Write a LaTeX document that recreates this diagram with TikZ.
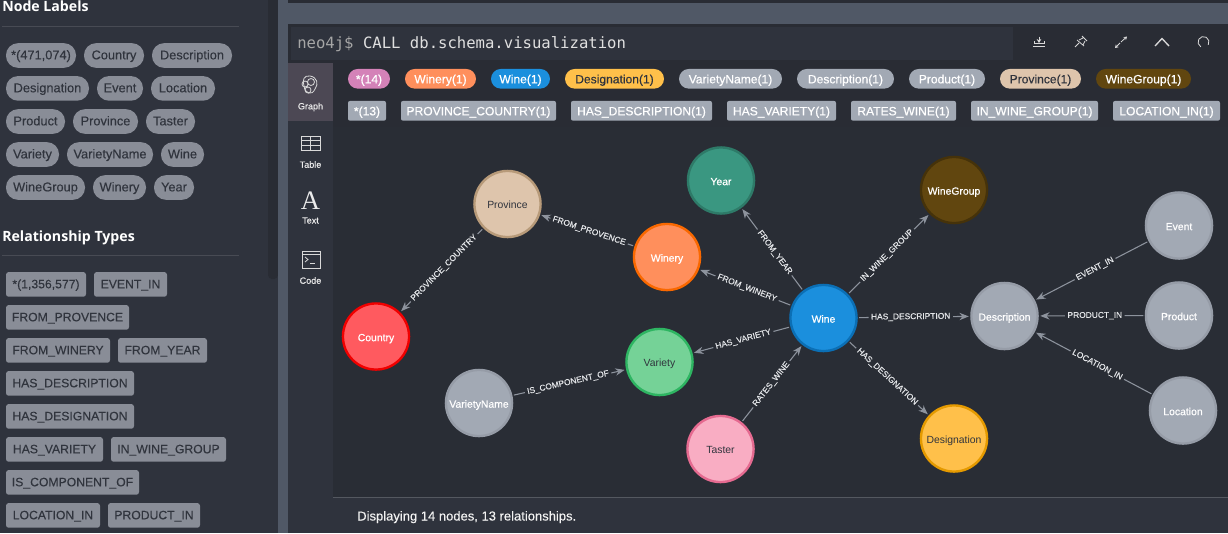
\documentclass[tikz,border=0pt]{standalone}
\usepackage{fontspec}
\setmainfont{Liberation Sans}
\newfontfamily\headfont{Open Sans}
\newfontfamily\monofont{DejaVu Sans Mono}
\newfontfamily\semi[FakeBold=0.25]{Liberation Sans}
\newfontfamily\semib[FakeBold=0.6]{Liberation Sans}
\newfontfamily\serifA{Liberation Serif}
\usetikzlibrary{arrows.meta}
\definecolor{side}{HTML}{2F333D}
\definecolor{gutter}{HTML}{292C34}
\definecolor{frame}{HTML}{505866}
\definecolor{cv}{HTML}{292D35}
\definecolor{bar}{HTML}{2F333D}
\definecolor{pillg}{HTML}{898D97}
\definecolor{pilld}{HTML}{A2A9B4}
\definecolor{edgec}{HTML}{8D939D}
\definecolor{txtd}{HTML}{30343D}
\definecolor{lbl}{HTML}{E4E6E9}
\definecolor{tabhi}{HTML}{4C4854}
\definecolor{cstar}{HTML}{D482B8}
\definecolor{cwinery}{HTML}{FF8F5C}
\definecolor{bwinery}{HTML}{F96800}
\definecolor{cwine}{HTML}{1B8FDD}
\definecolor{bwine}{HTML}{0B6FB5}
\definecolor{cdesig}{HTML}{FFC04A}
\definecolor{bdesig}{HTML}{E59A00}
\definecolor{cprov}{HTML}{DEC5AC}
\definecolor{bprov}{HTML}{B79A79}
\definecolor{cgroup}{HTML}{61460F}
\definecolor{bgroup}{HTML}{45320A}
\definecolor{cyear}{HTML}{3A9781}
\definecolor{byear}{HTML}{2E7A68}
\definecolor{ccountry}{HTML}{FF5A5F}
\definecolor{bcountry}{HTML}{F00000}
\definecolor{cvariety}{HTML}{75D297}
\definecolor{bvariety}{HTML}{2EB562}
\definecolor{bgrey}{HTML}{969CA7}
\definecolor{ctaster}{HTML}{F9ADC3}
\definecolor{btaster}{HTML}{E56A90}
\tikzset{
 x=0.75pt,y=-0.75pt,
 sp/.style={rounded corners=9pt,fill=pillg,text=txtd,inner sep=0pt,font=\semi\fontsize{9.6}{10}\selectfont,text height=7.5pt,text depth=1.7pt},
 sr/.style={rounded corners=2pt,fill=pillg,text=txtd,inner sep=0pt,font=\semi\fontsize{9.15}{10}\selectfont,text height=7.5pt,text depth=1.7pt},
 gn/.style={circle,draw=#1,line width=1.8pt,minimum size=49.6pt,inner sep=0pt,font=\semib\fontsize{7.8}{8}\selectfont,text=white,outer sep=2pt,text height=7pt,text depth=0pt},
 dk/.style={text=txtd,font=\fontsize{7.8}{8}\selectfont},
 rel/.style={-{Stealth[length=7pt,width=5.5pt]},draw=edgec,line width=0.8pt},
 rl/.style={fill=cv,inner sep=1.8pt,text=lbl,font=\semi\fontsize{6.3}{7}\selectfont,sloped,pos=#1},
 rl/.default=0.5,
 htitle/.style={text=white,font=\headfont\bfseries\fontsize{10.6}{12}\selectfont,anchor=base west,inner sep=0pt},
 ic/.style={draw=white!85!black,line width=0.6pt},
 tabl/.style={text=white!92!black,font=\semi\fontsize{6.8}{8}\selectfont,inner sep=0pt},
 lp/.style={rounded corners=7.4pt,inner sep=0pt,font=\semib\fontsize{9.05}{10}\selectfont,minimum height=14.8pt,text=white,text height=8pt,text depth=1.2pt},
 lr/.style={rounded corners=1.5pt,inner sep=0pt,font=\semib\fontsize{9.05}{10}\selectfont,minimum height=14.8pt,text=white,fill=pilld,text height=8pt,text depth=1.2pt},
}
\newcommand{\pill}[6]{\node[#5,minimum width={(#3-#2)*0.75pt},minimum height=18.5pt] (#1) at ({(#2+#3)/2},#4) {#6};}
\newcommand{\lpill}[6]{\node[#5,minimum width={(#3-#2)*0.75pt}] (#1) at ({(#2+#3)/2},#4) {#6};}
\begin{document}
\begin{tikzpicture}
\useasboundingbox (0,0) rectangle (1228,533);
\fill[side] (0,0) rectangle (1228,533);
\fill[gutter,rounded corners=3pt] (268,-10) rectangle (278,279);
\fill[frame] (278,0) rectangle (1228,533);
\fill[gutter] (288,0) rectangle (1228,3);
\fill[gutter] (288,24) rectangle (1228,533);
\fill[bar] (291,27) rectangle (1013,60);
\fill[side] (288,63) rectangle (333,533);
\fill[tabhi] (288,63) rectangle (333,121);
\fill[cv] (333,127) rectangle (1228,533);
\fill[side] (333,497) rectangle (1228,533);
\draw[white!18!side,line width=0.6pt] (333,497) -- (1228,497);

% sidebar headings
\node[htitle] (hn) at (2,11) {Node Labels};
\node[htitle] (hr) at (2,241) {Relationship Types};
\draw[white!12!side,line width=0.6pt] (2,26) -- (239,26);
\draw[white!12!side,line width=0.6pt] (2,255) -- (239,255);

% node label pills
\pill{a1}{6}{76}{55.5}{sp}{*(471,074)}
\pill{a2}{84}{144}{55.5}{sp}{Country}
\pill{a3}{152}{232}{55.5}{sp}{Description}
\pill{a4}{6}{89}{88.4}{sp}{Designation}
\pill{a5}{97}{143}{88.4}{sp}{Event}
\pill{a6}{151}{215}{88.4}{sp}{Location}
\pill{a7}{6}{65}{121.5}{sp}{Product}
\pill{a8}{73}{138}{121.5}{sp}{Province}
\pill{a9}{146}{195}{121.5}{sp}{Taster}
\pill{a10}{6}{59}{154.5}{sp}{Variety}
\pill{a11}{67}{153}{154.5}{sp}{VarietyName}
\pill{a12}{161}{204}{154.5}{sp}{Wine}
\pill{a13}{6}{85}{187.5}{sp}{WineGroup}
\pill{a14}{93}{146}{187.5}{sp}{Winery}
\pill{a15}{154}{194}{187.5}{sp}{Year}

% relationship type pills
\pill{b1}{6}{86}{284.4}{sr}{*(1,356,577)}
\pill{b2}{94}{167}{284.4}{sr}{EVENT\_IN}
\pill{b3}{6}{129}{317.4}{sr}{FROM\_PROVENCE}
\pill{b4}{6}{110}{350.4}{sr}{FROM\_WINERY}
\pill{b5}{118}{207}{350.4}{sr}{FROM\_YEAR}
\pill{b6}{6}{134}{383.4}{sr}{HAS\_DESCRIPTION}
\pill{b7}{6}{134}{416.4}{sr}{HAS\_DESIGNATION}
\pill{b8}{6}{103}{449.4}{sr}{HAS\_VARIETY}
\pill{b9}{111}{226}{449.4}{sr}{IN\_WINE\_GROUP}
\pill{b10}{6}{139}{482.4}{sr}{IS\_COMPONENT\_OF}
\pill{b11}{6}{100}{515.4}{sr}{LOCATION\_IN}
\pill{b12}{108}{200}{515.4}{sr}{PRODUCT\_IN}

% query line
\node[anchor=base west,inner sep=0pt,font=\monofont\fontsize{11.7}{12}\selectfont,text=white!88!black] (q) at (297,48.5) {\textcolor{white!65!black}{neo4j\$} CALL db.schema.visualization};

% toolbar icons
\begin{scope}[ic]
\draw (1033,46.5) -- (1045,46.5);
\draw (1034,41) -- (1034,43.5) -- (1044,43.5) -- (1044,41);
\draw[-{Stealth[length=3pt,width=3.5pt]}] (1039,36.5) -- (1039,43);
\draw (1075,47) -- (1079,43);
\draw (1077,40) -- (1084,46) (1082,36) -- (1087,41) (1079,40) -- (1083,38) (1083,45) -- (1085,41);
\draw[-{Stealth[length=2.5pt,width=3pt]}] (1121,42) -- (1127,36.5);
\draw[-{Stealth[length=2.5pt,width=3pt]}] (1120,43) -- (1115,48);
\draw[line width=1pt] (1155,46) -- (1162,38.5) -- (1169,46);
\draw (1200.75,46.8) arc[start angle=120,end angle=390,radius=5.5];
\end{scope}

% left tab labels and icons
\begin{scope}[ic]
\draw (305,84) circle[radius=3] (311,82) circle[radius=3.5] (308,90) circle[radius=3];
\draw (310,76) .. controls (304,75) and (302,80) .. (304,86) .. controls (305,94) and (312,96) .. (315,89) .. controls (319,84) and (317,77) .. (310,76) -- cycle;
\draw (301,136) rectangle (320,150);
\draw (301,140.5) -- (320,140.5) (301,145) -- (320,145) (310.5,136) -- (310.5,150);
\draw (302,251) rectangle (320,268);
\draw (302,254) -- (320,254);
\draw (305,257) -- (308,259.5) -- (305,262);
\draw (310,263) -- (315,263);
\end{scope}
\node[tabl] (t1) at (310.5,107) {Graph};
\node[tabl] (t2) at (310.5,164.5) {Table};
\node[tabl,font=\serifA\fontsize{20}{20}\selectfont] (t3a) at (310.5,201) {A};
\node[tabl] (t3) at (310.5,220.5) {Text};
\node[tabl] (t4) at (310.5,280.5) {Code};

% result legend
\lpill{c1}{348}{390}{78.8}{lp,fill=cstar}{*(14)}
\lpill{c2}{405}{476}{78.8}{lp,fill=cwinery}{Winery(1)}
\lpill{c3}{491}{550}{78.8}{lp,fill=cwine}{Wine(1)}
\lpill{c4}{565}{664}{78.8}{lp,fill=cdesig,text=txtd}{\semi Designation(1)}
\lpill{c5}{679}{782}{78.8}{lp,fill=pilld}{VarietyName(1)}
\lpill{c6}{797}{894}{78.8}{lp,fill=pilld}{Description(1)}
\lpill{c7}{909}{985}{78.8}{lp,fill=pilld}{Product(1)}
\lpill{c8}{1000}{1081}{78.8}{lp,fill=cprov,text=txtd}{\semi Province(1)}
\lpill{c9}{1096}{1191}{78.8}{lp,fill=cgroup}{WineGroup(1)}
\lpill{d1}{348}{386}{110.8}{lr}{*(13)}
\lpill{d2}{401}{556}{110.8}{lr}{PROVINCE\_COUNTRY(1)}
\lpill{d3}{571}{712}{110.8}{lr}{HAS\_DESCRIPTION(1)}
\lpill{d4}{727}{836}{110.8}{lr}{HAS\_VARIETY(1)}
\lpill{d5}{851}{956}{110.8}{lr}{RATES\_WINE(1)}
\lpill{d6}{971}{1098}{110.8}{lr}{IN\_WINE\_GROUP(1)}
\lpill{d7}{1113}{1220}{110.8}{lr}{LOCATION\_IN(1)}

% graph nodes
\node[gn=byear,fill=cyear] (year) at (721,180.5) {Year};
\node[gn=bgroup,fill=cgroup] (winegroup) at (954,190) {WineGroup};
\node[gn=bprov,fill=cprov,dk] (province) at (507.5,204) {Province};
\node[gn=bwinery,fill=cwinery] (winery) at (667,257) {Winery};
\node[gn=bcountry,fill=ccountry] (country) at (376,336.5) {Country};
\node[gn=bvariety,fill=cvariety,dk] (variety) at (659.5,362) {Variety};
\node[gn=bwine,fill=cwine] (wine) at (823.5,318) {Wine};
\node[gn=bgrey,fill=pilld] (description) at (1004.5,316) {Description};
\node[gn=bgrey,fill=pilld] (event) at (1179,225.5) {Event};
\node[gn=bgrey,fill=pilld] (product) at (1179,315.5) {Product};
\node[gn=bgrey,fill=pilld] (location) at (1183,410.5) {Location};
\node[gn=bgrey,fill=pilld] (varietyname) at (479,403) {VarietyName};
\node[gn=btaster,fill=ctaster,dk] (taster) at (720.5,449) {Taster};
\node[gn=bdesig,fill=cdesig,dk] (designation) at (954,438.5) {Designation};

% connectors
\draw[rel] (province) -- node[rl=0.47]{PROVINCE\_COUNTRY} (country);
\draw[rel] (winery) -- node[rl=0.48]{FROM\_PROVENCE} (province);
\draw[rel] (wine) -- node[rl=0.48]{FROM\_WINERY} (winery);
\draw[rel] (wine) -- node[rl=0.46]{FROM\_YEAR} (year);
\draw[rel] (wine) -- node[rl=0.48]{IN\_WINE\_GROUP} (winegroup);
\draw[rel] (wine) -- node[rl=0.47]{HAS\_DESCRIPTION} (description);
\draw[rel] (wine) -- node[rl=0.48]{HAS\_DESIGNATION} (designation);
\draw[rel] (wine) -- node[rl=0.48]{HAS\_VARIETY} (variety);
\draw[rel] (taster) -- node[rl=0.49]{RATES\_WINE} (wine);
\draw[rel] (varietyname) -- node[rl=0.49]{IS\_COMPONENT\_OF} (variety);
\draw[rel] (event) -- node[rl=0.47]{EVENT\_IN} (description);
\draw[rel] (product) -- node[rl=0.47]{PRODUCT\_IN} (description);
\draw[rel] (location) -- node[rl=0.47]{LOCATION\_IN} (description);

\node[anchor=base west,inner sep=0pt,text=white!95!black,font=\semi\fontsize{9.75}{11}\selectfont] (foot) at (357,520.5) {Displaying 14 nodes, 13 relationships.};
\end{tikzpicture}
\end{document}
